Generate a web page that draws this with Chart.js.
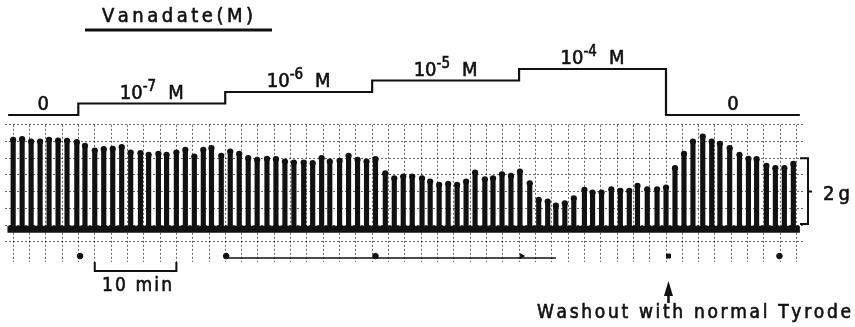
<!DOCTYPE html>
<html>
<head>
<meta charset="utf-8">
<script src="https://cdn.jsdelivr.net/npm/chart.js@4.4.0/dist/chart.umd.min.js"></script>
<style>
  html, body { margin: 0; padding: 0; background: #fff; }
  #wrap { position: relative; width: 855px; height: 327px; overflow: hidden; }
  #wrap canvas { position: absolute; left: 0; top: 0; }
</style>
</head>
<body>
<div id="wrap">
  <canvas id="trace" width="855" height="327"></canvas>
  <canvas id="conc" width="855" height="327"></canvas>
</div>
<script>
// Twitch times (min, from the first vanadate addition)
const twitchTimes = [
  -8.0, -6.9, -5.8, -4.7, -3.6, -2.5, -1.4, -0.2, 0.8, 2.0,
  3.1, 4.2, 5.3, 6.4, 7.6, 8.6, 9.8, 10.8, 12.0, 13.1,
  14.2, 15.3, 16.3, 17.5, 18.6, 19.7, 20.8, 21.9, 23.1, 24.2,
  25.3, 26.4, 27.6, 28.7, 29.8, 30.8, 32.0, 33.1, 34.2, 35.3,
  36.4, 37.6, 38.7, 39.8, 40.9, 42.1, 43.1, 44.2, 45.3, 46.4,
  47.5, 48.6, 49.8, 50.8, 51.9, 53.0, 54.1, 55.3, 56.4, 57.5,
  58.5, 59.6, 60.7, 62.0, 63.0, 64.1, 65.3, 66.4, 67.5, 68.5,
  69.7, 70.9, 72.0, 73.1, 74.2, 75.3, 76.5, 77.6, 78.6, 79.8,
  81.0, 82.1, 83.1, 84.3, 85.4, 86.5, 87.6
];
// Peak developed tension of each twitch (g)
const peakTension = [
  2.55, 2.57, 2.50, 2.50, 2.55, 2.53, 2.52, 2.48, 2.37, 2.23,
  2.27, 2.28, 2.33, 2.17, 2.15, 2.10, 2.13, 2.10, 2.17, 2.25,
  2.05, 2.25, 2.30, 2.07, 2.20, 2.13, 2.00, 1.95, 1.98, 1.97,
  1.90, 1.87, 1.87, 1.85, 2.00, 1.90, 1.92, 2.07, 1.95, 1.90,
  1.97, 1.55, 1.40, 1.45, 1.45, 1.40, 1.30, 1.20, 1.23, 1.20,
  1.30, 1.57, 1.37, 1.40, 1.52, 1.47, 1.60, 1.25, 0.75, 0.70,
  0.58, 0.65, 0.80, 1.05, 0.97, 0.97, 1.07, 1.02, 1.02, 1.17,
  1.07, 1.07, 1.12, 1.70, 2.13, 2.50, 2.65, 2.50, 2.43, 2.30,
  2.10, 1.98, 1.97, 1.77, 1.70, 1.70, 1.83
];
// Recording span (min)
const recordSpan = [-8.7, 88.4];

// Vanadate protocol: change times (min) and concentration step (0 = none)
const stepTimes  = [-8.6, 0, 18, 36, 54, 72, 88.4];
const stepLevels = [0, 1, 2, 3, 4, 0, 0];
const stepBase   = ['0', '10', '10', '10', '10', '0'];
const stepExp    = ['', '-7', '-6', '-5', '-4', ''];
const stepUnit   = ['', 'M', 'M', 'M', 'M', ''];

// Event marks on the recorder (min)
const eventTimes = [0.2, 18.1, 36.4, 54.3, 72.3, 85.9];
const eventLine  = [18.0, 58.5];
const washoutTime = 72.3;
const scaleBarMin = [2, 12];

const INK = '#111';
const FONT = '"DejaVu Sans Condensed", "DejaVu Sans", sans-serif';

function spacedText(ctx, str, x, y, size, width) {
  ctx.save();
  ctx.font = size + 'px ' + FONT;
  ctx.fillStyle = INK;
  ctx.strokeStyle = INK;
  ctx.lineWidth = 0.6;
  ctx.textBaseline = 'alphabetic';
  ctx.textAlign = 'left';
  const chars = Array.from(str);
  const natural = chars.reduce((s, c) => s + ctx.measureText(c).width, 0);
  const sp = width ? (width - natural) / Math.max(1, chars.length - 1) : 0;
  let cx = x;
  chars.forEach(c => {
    ctx.fillText(c, cx, y);
    ctx.strokeText(c, cx, y);
    cx += ctx.measureText(c).width + sp;
  });
  ctx.restore();
}

const LEFT = 4.84, RIGHT = 855 - 804.76;

// Labels, scale bars and washout arrow around the trace
const traceDecor = {
  id: 'traceDecor',
  afterDraw(chart) {
    const { ctx, scales: { x, y } } = chart;
    ctx.save();
    ctx.strokeStyle = INK; ctx.fillStyle = INK;
    ctx.lineWidth = 2; ctx.lineCap = 'butt';
    // 2 g calibration bracket
    const bx = 808, y0 = y.getPixelForValue(0) - 1, y2 = y.getPixelForValue(2), y1 = y.getPixelForValue(1);
    ctx.beginPath();
    ctx.moveTo(800, y2); ctx.lineTo(bx, y2); ctx.lineTo(bx, y0); ctx.lineTo(800, y0);
    ctx.moveTo(bx, y1); ctx.lineTo(bx + 4, y1);
    ctx.stroke();
    spacedText(ctx, '2 g', 823, 200, 20, 27);
    // 10 min time bar
    const xa = x.getPixelForValue(scaleBarMin[0]), xb = x.getPixelForValue(scaleBarMin[1]);
    ctx.beginPath();
    ctx.moveTo(xa, 262); ctx.lineTo(xa, 271); ctx.lineTo(xb, 271); ctx.lineTo(xb, 262);
    ctx.stroke();
    spacedText(ctx, '10 min', 102, 291, 19, 70);
    // washout arrow
    const wx = x.getPixelForValue(washoutTime);
    ctx.beginPath();
    ctx.moveTo(wx, 281); ctx.lineTo(wx - 4.5, 296); ctx.lineTo(wx + 4.5, 296); ctx.closePath();
    ctx.fill();
    ctx.lineWidth = 2.5;
    ctx.beginPath(); ctx.moveTo(wx, 294); ctx.lineTo(wx, 303); ctx.stroke();
    spacedText(ctx, 'Washout with normal Tyrode', 537, 318, 19, 314);
    ctx.restore();
  }
};

const twitchPoints = twitchTimes.map((t, i) => ({ x: t, y: peakTension[i] }));

new Chart(document.getElementById('trace'), {
  type: 'bar',
  data: {
    datasets: [
      { type: 'bar', data: twitchPoints, backgroundColor: INK, barThickness: 4.5, base: -0.2, order: 3 },
      { type: 'scatter', data: twitchPoints, pointRadius: 3.1, backgroundColor: INK, borderWidth: 0, order: 1 },
      { type: 'line', data: recordSpan.map(t => ({ x: t, y: -0.13 })), borderColor: INK, borderWidth: 7, pointRadius: 0, order: 2 },
      { type: 'line', data: eventLine.map(t => ({ x: t, y: -0.99 })), borderColor: INK, borderWidth: 1.5, pointRadius: 0, order: 2 },
      { type: 'scatter', data: eventTimes.map(t => ({ x: t, y: -0.93 })), backgroundColor: INK, borderColor: INK,
        pointStyle: ['circle', 'circle', 'circle', 'triangle', 'rect', 'circle'],
        pointRotation: [0, 0, 0, 90, 0, 0], pointRadius: 2.8, order: 1 }
    ]
  },
  options: {
    responsive: false, animation: false, events: [],
    layout: { padding: { left: LEFT, right: RIGHT, top: 124.8, bottom: 65.26 } },
    plugins: { legend: { display: false }, tooltip: { enabled: false } },
    scales: {
      x: {
        type: 'linear', min: -9, max: 89, offset: false,
        ticks: { display: false },
        grid: { color: 'rgba(0,0,0,0.6)', lineWidth: 1, drawTicks: false, offset: false },
        border: { display: false, dash: [2, 2] },
        afterBuildTicks: s => { const a = []; for (let v = -8; v <= 88; v += 2) a.push({ value: v }); s.ticks = a; }
      },
      y: {
        type: 'linear', min: -1.1, max: 3,
        ticks: { display: false },
        grid: { color: 'rgba(0,0,0,0.6)', lineWidth: 1, drawTicks: false },
        border: { display: false, dash: [2, 2] },
        afterBuildTicks: s => { const a = []; for (let v = -0.5; v <= 3; v += 0.5) a.push({ value: v }); s.ticks = a; }
      }
    }
  },
  plugins: [traceDecor]
});

// Title and concentration labels above the protocol line
const concDecor = {
  id: 'concDecor',
  afterDraw(chart) {
    const { ctx, scales: { x, y } } = chart;
    ctx.save();
    spacedText(ctx, 'Vanadate(M)', 102, 22, 20, 151);
    ctx.strokeStyle = INK; ctx.lineWidth = 3;
    ctx.beginPath(); ctx.moveTo(85, 30); ctx.lineTo(272, 30); ctx.stroke();
    for (let i = 0; i < stepBase.length; i++) {
      const mid = x.getPixelForValue((stepTimes[i] + stepTimes[i + 1]) / 2);
      const by = y.getPixelForValue(stepLevels[i]) - 5;
      ctx.font = '20px ' + FONT;
      const wb = ctx.measureText(stepBase[i]).width;
      ctx.font = '15px ' + FONT;
      const we = ctx.measureText(stepExp[i]).width;
      ctx.font = '20px ' + FONT;
      const wu = ctx.measureText(stepUnit[i]).width;
      const gap = stepUnit[i] ? 12 : 0;
      let cx = mid - (wb + we + gap + wu) / 2;
      spacedText(ctx, stepBase[i], cx, by, 20, 0); cx += wb;
      if (stepExp[i]) { spacedText(ctx, stepExp[i], cx, by - 8, 15, 0); cx += we; }
      if (stepUnit[i]) { cx += gap; spacedText(ctx, stepUnit[i], cx, by, 20, 0); }
    }
    ctx.restore();
  }
};

new Chart(document.getElementById('conc'), {
  type: 'line',
  data: {
    datasets: [{
      data: stepTimes.map((t, i) => ({ x: t, y: stepLevels[i] })),
      stepped: true, borderColor: INK, borderWidth: 2.2, pointRadius: 0, fill: false
    }]
  },
  options: {
    responsive: false, animation: false, events: [],
    layout: { padding: { left: LEFT, right: RIGHT, top: 63.25, bottom: 206.25 } },
    plugins: { legend: { display: false }, tooltip: { enabled: false } },
    scales: {
      x: { type: 'linear', min: -9, max: 89, display: false },
      y: { type: 'linear', min: -0.5, max: 4.5, display: false }
    }
  },
  plugins: [concDecor]
});
</script>
</body>
</html>
